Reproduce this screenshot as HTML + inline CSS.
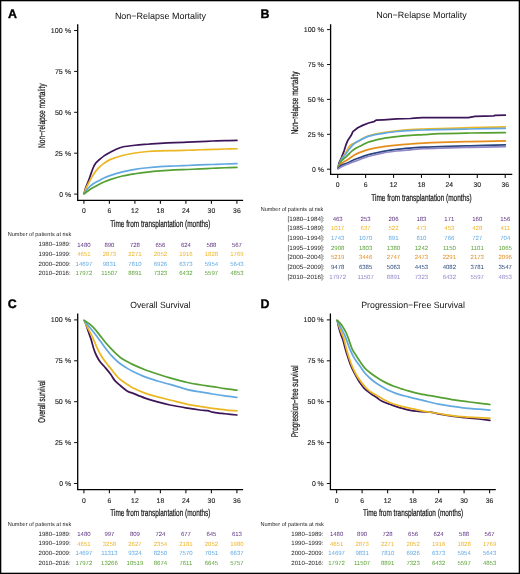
<!DOCTYPE html>
<html><head><meta charset="utf-8"><title>Figure</title>
<style>html,body{margin:0;padding:0;background:#fff;} svg{display:block;will-change:transform;}</style>
</head><body>
<svg width="520" height="574" viewBox="0 0 520 574" font-family='"Liberation Sans", sans-serif' text-rendering="geometricPrecision">
<rect x="0" y="0" width="520" height="574" fill="#fff"/>
<rect x="0.65" y="0.65" width="518.7" height="572.7" fill="none" stroke="#000" stroke-width="1.3"/>
<text x="8.00" y="18.15" font-size="12.4" font-weight="bold" fill="#000" stroke="#000" stroke-width="0.35">A</text>
<text x="160.40" y="18.60" font-size="9" text-anchor="middle" textLength="91.00" lengthAdjust="spacingAndGlyphs" fill="#111">Non−Relapse Mortality</text>
<path d="M77.70,24.20 L77.70,200.30 L243.10,200.30" fill="none" stroke="#000" stroke-width="1.3"/>
<line x1="74.10" y1="194.10" x2="77.70" y2="194.10" stroke="#111" stroke-width="1.0"/>
<text x="71.00" y="196.55" font-size="7.0" text-anchor="end" textLength="11.80" lengthAdjust="spacingAndGlyphs" fill="#222" stroke="#222" stroke-width="0.12">0 %</text>
<line x1="74.10" y1="153.20" x2="77.70" y2="153.20" stroke="#111" stroke-width="1.0"/>
<text x="71.00" y="155.65" font-size="7.0" text-anchor="end" textLength="16.10" lengthAdjust="spacingAndGlyphs" fill="#222" stroke="#222" stroke-width="0.12">25 %</text>
<line x1="74.10" y1="112.30" x2="77.70" y2="112.30" stroke="#111" stroke-width="1.0"/>
<text x="71.00" y="114.75" font-size="7.0" text-anchor="end" textLength="16.10" lengthAdjust="spacingAndGlyphs" fill="#222" stroke="#222" stroke-width="0.12">50 %</text>
<line x1="74.10" y1="71.40" x2="77.70" y2="71.40" stroke="#111" stroke-width="1.0"/>
<text x="71.00" y="73.85" font-size="7.0" text-anchor="end" textLength="16.10" lengthAdjust="spacingAndGlyphs" fill="#222" stroke="#222" stroke-width="0.12">75 %</text>
<line x1="74.10" y1="30.50" x2="77.70" y2="30.50" stroke="#111" stroke-width="1.0"/>
<text x="71.00" y="32.95" font-size="7.0" text-anchor="end" textLength="20.20" lengthAdjust="spacingAndGlyphs" fill="#222" stroke="#222" stroke-width="0.12">100 %</text>
<line x1="83.90" y1="200.30" x2="83.90" y2="203.80" stroke="#111" stroke-width="1.1"/>
<text x="83.90" y="213.20" font-size="6.8" text-anchor="middle" fill="#222" stroke="#222" stroke-width="0.12">0</text>
<line x1="109.40" y1="200.30" x2="109.40" y2="203.80" stroke="#111" stroke-width="1.1"/>
<text x="109.40" y="213.20" font-size="6.8" text-anchor="middle" fill="#222" stroke="#222" stroke-width="0.12">6</text>
<line x1="134.90" y1="200.30" x2="134.90" y2="203.80" stroke="#111" stroke-width="1.1"/>
<text x="134.90" y="213.20" font-size="6.8" text-anchor="middle" fill="#222" stroke="#222" stroke-width="0.12">12</text>
<line x1="160.40" y1="200.30" x2="160.40" y2="203.80" stroke="#111" stroke-width="1.1"/>
<text x="160.40" y="213.20" font-size="6.8" text-anchor="middle" fill="#222" stroke="#222" stroke-width="0.12">18</text>
<line x1="185.90" y1="200.30" x2="185.90" y2="203.80" stroke="#111" stroke-width="1.1"/>
<text x="185.90" y="213.20" font-size="6.8" text-anchor="middle" fill="#222" stroke="#222" stroke-width="0.12">24</text>
<line x1="211.40" y1="200.30" x2="211.40" y2="203.80" stroke="#111" stroke-width="1.1"/>
<text x="211.40" y="213.20" font-size="6.8" text-anchor="middle" fill="#222" stroke="#222" stroke-width="0.12">30</text>
<line x1="236.90" y1="200.30" x2="236.90" y2="203.80" stroke="#111" stroke-width="1.1"/>
<text x="236.90" y="213.20" font-size="6.8" text-anchor="middle" fill="#222" stroke="#222" stroke-width="0.12">36</text>
<text x="160.40" y="226.50" font-size="9.8" text-anchor="middle" textLength="100.20" lengthAdjust="spacingAndGlyphs" fill="#111" stroke="#111" stroke-width="0.2">Time from transplantation (months)</text>
<text transform="translate(45.30,115.70) rotate(-90)" x="0" y="0" font-size="9.8" text-anchor="middle" textLength="64.50" lengthAdjust="spacingAndGlyphs" fill="#111" stroke="#111" stroke-width="0.2">Non−relapse mortality</text>
<text x="7.70" y="236.20" font-size="5.7" textLength="63.50" lengthAdjust="spacingAndGlyphs" fill="#222">Number of patients at risk</text>
<text x="70.70" y="246.30" font-size="6.1" text-anchor="end" textLength="32.10" lengthAdjust="spacingAndGlyphs" fill="#222">1980–1989:</text>
<text x="83.90" y="246.60" font-size="6.0" text-anchor="middle" fill="#5a2f80">1480</text>
<text x="109.40" y="246.60" font-size="6.0" text-anchor="middle" fill="#5a2f80">890</text>
<text x="134.90" y="246.60" font-size="6.0" text-anchor="middle" fill="#5a2f80">728</text>
<text x="160.40" y="246.60" font-size="6.0" text-anchor="middle" fill="#5a2f80">656</text>
<text x="185.90" y="246.60" font-size="6.0" text-anchor="middle" fill="#5a2f80">624</text>
<text x="211.40" y="246.60" font-size="6.0" text-anchor="middle" fill="#5a2f80">588</text>
<text x="236.90" y="246.60" font-size="6.0" text-anchor="middle" fill="#5a2f80">567</text>
<text x="70.70" y="255.90" font-size="6.1" text-anchor="end" textLength="32.10" lengthAdjust="spacingAndGlyphs" fill="#222">1990–1999:</text>
<text x="83.90" y="256.20" font-size="6.0" text-anchor="middle" fill="#efb52a">4651</text>
<text x="109.40" y="256.20" font-size="6.0" text-anchor="middle" fill="#efb52a">2873</text>
<text x="134.90" y="256.20" font-size="6.0" text-anchor="middle" fill="#efb52a">2271</text>
<text x="160.40" y="256.20" font-size="6.0" text-anchor="middle" fill="#efb52a">2052</text>
<text x="185.90" y="256.20" font-size="6.0" text-anchor="middle" fill="#efb52a">1916</text>
<text x="211.40" y="256.20" font-size="6.0" text-anchor="middle" fill="#efb52a">1828</text>
<text x="236.90" y="256.20" font-size="6.0" text-anchor="middle" fill="#efb52a">1769</text>
<text x="70.70" y="265.50" font-size="6.1" text-anchor="end" textLength="32.10" lengthAdjust="spacingAndGlyphs" fill="#222">2000–2009:</text>
<text x="83.90" y="265.80" font-size="6.0" text-anchor="middle" fill="#62a9e2">14697</text>
<text x="109.40" y="265.80" font-size="6.0" text-anchor="middle" fill="#62a9e2">9831</text>
<text x="134.90" y="265.80" font-size="6.0" text-anchor="middle" fill="#62a9e2">7810</text>
<text x="160.40" y="265.80" font-size="6.0" text-anchor="middle" fill="#62a9e2">6926</text>
<text x="185.90" y="265.80" font-size="6.0" text-anchor="middle" fill="#62a9e2">6373</text>
<text x="211.40" y="265.80" font-size="6.0" text-anchor="middle" fill="#62a9e2">5954</text>
<text x="236.90" y="265.80" font-size="6.0" text-anchor="middle" fill="#62a9e2">5643</text>
<text x="70.70" y="275.10" font-size="6.1" text-anchor="end" textLength="32.10" lengthAdjust="spacingAndGlyphs" fill="#222">2010–2016:</text>
<text x="83.90" y="275.40" font-size="6.0" text-anchor="middle" fill="#5ca238">17972</text>
<text x="109.40" y="275.40" font-size="6.0" text-anchor="middle" fill="#5ca238">11507</text>
<text x="134.90" y="275.40" font-size="6.0" text-anchor="middle" fill="#5ca238">8891</text>
<text x="160.40" y="275.40" font-size="6.0" text-anchor="middle" fill="#5ca238">7323</text>
<text x="185.90" y="275.40" font-size="6.0" text-anchor="middle" fill="#5ca238">6432</text>
<text x="211.40" y="275.40" font-size="6.0" text-anchor="middle" fill="#5ca238">5597</text>
<text x="236.90" y="275.40" font-size="6.0" text-anchor="middle" fill="#5ca238">4853</text>
<text x="260.40" y="18.40" font-size="12.4" font-weight="bold" fill="#000" stroke="#000" stroke-width="0.35">B</text>
<text x="421.45" y="18.40" font-size="9" text-anchor="middle" textLength="90.50" lengthAdjust="spacingAndGlyphs" fill="#111">Non−Relapse Mortality</text>
<path d="M330.60,24.20 L330.60,174.40 L512.30,174.40" fill="none" stroke="#000" stroke-width="1.3"/>
<line x1="327.00" y1="169.20" x2="330.60" y2="169.20" stroke="#111" stroke-width="1.0"/>
<text x="323.90" y="171.65" font-size="7.0" text-anchor="end" textLength="11.80" lengthAdjust="spacingAndGlyphs" fill="#222" stroke="#222" stroke-width="0.12">0 %</text>
<line x1="327.00" y1="134.30" x2="330.60" y2="134.30" stroke="#111" stroke-width="1.0"/>
<text x="323.90" y="136.75" font-size="7.0" text-anchor="end" textLength="16.10" lengthAdjust="spacingAndGlyphs" fill="#222" stroke="#222" stroke-width="0.12">25 %</text>
<line x1="327.00" y1="99.40" x2="330.60" y2="99.40" stroke="#111" stroke-width="1.0"/>
<text x="323.90" y="101.85" font-size="7.0" text-anchor="end" textLength="16.10" lengthAdjust="spacingAndGlyphs" fill="#222" stroke="#222" stroke-width="0.12">50 %</text>
<line x1="327.00" y1="64.50" x2="330.60" y2="64.50" stroke="#111" stroke-width="1.0"/>
<text x="323.90" y="66.95" font-size="7.0" text-anchor="end" textLength="16.10" lengthAdjust="spacingAndGlyphs" fill="#222" stroke="#222" stroke-width="0.12">75 %</text>
<line x1="327.00" y1="29.60" x2="330.60" y2="29.60" stroke="#111" stroke-width="1.0"/>
<text x="323.90" y="32.05" font-size="7.0" text-anchor="end" textLength="20.20" lengthAdjust="spacingAndGlyphs" fill="#222" stroke="#222" stroke-width="0.12">100 %</text>
<line x1="337.70" y1="174.40" x2="337.70" y2="177.90" stroke="#111" stroke-width="1.1"/>
<text x="337.70" y="187.30" font-size="6.8" text-anchor="middle" fill="#222" stroke="#222" stroke-width="0.12">0</text>
<line x1="365.62" y1="174.40" x2="365.62" y2="177.90" stroke="#111" stroke-width="1.1"/>
<text x="365.62" y="187.30" font-size="6.8" text-anchor="middle" fill="#222" stroke="#222" stroke-width="0.12">6</text>
<line x1="393.54" y1="174.40" x2="393.54" y2="177.90" stroke="#111" stroke-width="1.1"/>
<text x="393.54" y="187.30" font-size="6.8" text-anchor="middle" fill="#222" stroke="#222" stroke-width="0.12">12</text>
<line x1="421.46" y1="174.40" x2="421.46" y2="177.90" stroke="#111" stroke-width="1.1"/>
<text x="421.46" y="187.30" font-size="6.8" text-anchor="middle" fill="#222" stroke="#222" stroke-width="0.12">18</text>
<line x1="449.38" y1="174.40" x2="449.38" y2="177.90" stroke="#111" stroke-width="1.1"/>
<text x="449.38" y="187.30" font-size="6.8" text-anchor="middle" fill="#222" stroke="#222" stroke-width="0.12">24</text>
<line x1="477.30" y1="174.40" x2="477.30" y2="177.90" stroke="#111" stroke-width="1.1"/>
<text x="477.30" y="187.30" font-size="6.8" text-anchor="middle" fill="#222" stroke="#222" stroke-width="0.12">30</text>
<line x1="505.22" y1="174.40" x2="505.22" y2="177.90" stroke="#111" stroke-width="1.1"/>
<text x="505.22" y="187.30" font-size="6.8" text-anchor="middle" fill="#222" stroke="#222" stroke-width="0.12">36</text>
<text x="421.45" y="200.60" font-size="9.8" text-anchor="middle" textLength="100.20" lengthAdjust="spacingAndGlyphs" fill="#111" stroke="#111" stroke-width="0.2">Time from transplantation (months)</text>
<text transform="translate(297.70,102.90) rotate(-90)" x="0" y="0" font-size="9.8" text-anchor="middle" textLength="62.80" lengthAdjust="spacingAndGlyphs" fill="#111" stroke="#111" stroke-width="0.2">Non−relapse mortality</text>
<text x="260.70" y="211.10" font-size="5.7" textLength="62.60" lengthAdjust="spacingAndGlyphs" fill="#222">Number of patients at risk</text>
<text x="324.50" y="220.50" font-size="6.1" text-anchor="end" textLength="37.00" lengthAdjust="spacingAndGlyphs" fill="#222">[1980–1984]:</text>
<text x="337.70" y="220.80" font-size="6.0" text-anchor="middle" fill="#5a2f80">463</text>
<text x="365.62" y="220.80" font-size="6.0" text-anchor="middle" fill="#5a2f80">253</text>
<text x="393.54" y="220.80" font-size="6.0" text-anchor="middle" fill="#5a2f80">206</text>
<text x="421.46" y="220.80" font-size="6.0" text-anchor="middle" fill="#5a2f80">183</text>
<text x="449.38" y="220.80" font-size="6.0" text-anchor="middle" fill="#5a2f80">171</text>
<text x="477.30" y="220.80" font-size="6.0" text-anchor="middle" fill="#5a2f80">160</text>
<text x="505.22" y="220.80" font-size="6.0" text-anchor="middle" fill="#5a2f80">156</text>
<text x="324.50" y="230.17" font-size="6.1" text-anchor="end" textLength="37.00" lengthAdjust="spacingAndGlyphs" fill="#222">[1985–1989]:</text>
<text x="337.70" y="230.47" font-size="6.0" text-anchor="middle" fill="#efb52a">1017</text>
<text x="365.62" y="230.47" font-size="6.0" text-anchor="middle" fill="#efb52a">637</text>
<text x="393.54" y="230.47" font-size="6.0" text-anchor="middle" fill="#efb52a">522</text>
<text x="421.46" y="230.47" font-size="6.0" text-anchor="middle" fill="#efb52a">473</text>
<text x="449.38" y="230.47" font-size="6.0" text-anchor="middle" fill="#efb52a">453</text>
<text x="477.30" y="230.47" font-size="6.0" text-anchor="middle" fill="#efb52a">428</text>
<text x="505.22" y="230.47" font-size="6.0" text-anchor="middle" fill="#efb52a">411</text>
<text x="324.50" y="239.83" font-size="6.1" text-anchor="end" textLength="37.00" lengthAdjust="spacingAndGlyphs" fill="#222">[1990–1994]:</text>
<text x="337.70" y="240.13" font-size="6.0" text-anchor="middle" fill="#62a9e2">1743</text>
<text x="365.62" y="240.13" font-size="6.0" text-anchor="middle" fill="#62a9e2">1070</text>
<text x="393.54" y="240.13" font-size="6.0" text-anchor="middle" fill="#62a9e2">891</text>
<text x="421.46" y="240.13" font-size="6.0" text-anchor="middle" fill="#62a9e2">810</text>
<text x="449.38" y="240.13" font-size="6.0" text-anchor="middle" fill="#62a9e2">766</text>
<text x="477.30" y="240.13" font-size="6.0" text-anchor="middle" fill="#62a9e2">727</text>
<text x="505.22" y="240.13" font-size="6.0" text-anchor="middle" fill="#62a9e2">704</text>
<text x="324.50" y="249.50" font-size="6.1" text-anchor="end" textLength="37.00" lengthAdjust="spacingAndGlyphs" fill="#222">[1995–1999]:</text>
<text x="337.70" y="249.80" font-size="6.0" text-anchor="middle" fill="#5ca238">2908</text>
<text x="365.62" y="249.80" font-size="6.0" text-anchor="middle" fill="#5ca238">1803</text>
<text x="393.54" y="249.80" font-size="6.0" text-anchor="middle" fill="#5ca238">1380</text>
<text x="421.46" y="249.80" font-size="6.0" text-anchor="middle" fill="#5ca238">1242</text>
<text x="449.38" y="249.80" font-size="6.0" text-anchor="middle" fill="#5ca238">1150</text>
<text x="477.30" y="249.80" font-size="6.0" text-anchor="middle" fill="#5ca238">1101</text>
<text x="505.22" y="249.80" font-size="6.0" text-anchor="middle" fill="#5ca238">1065</text>
<text x="324.50" y="259.17" font-size="6.1" text-anchor="end" textLength="37.00" lengthAdjust="spacingAndGlyphs" fill="#222">[2000–2004]:</text>
<text x="337.70" y="259.47" font-size="6.0" text-anchor="middle" fill="#e58e1e">5219</text>
<text x="365.62" y="259.47" font-size="6.0" text-anchor="middle" fill="#e58e1e">3446</text>
<text x="393.54" y="259.47" font-size="6.0" text-anchor="middle" fill="#e58e1e">2747</text>
<text x="421.46" y="259.47" font-size="6.0" text-anchor="middle" fill="#e58e1e">2473</text>
<text x="449.38" y="259.47" font-size="6.0" text-anchor="middle" fill="#e58e1e">2291</text>
<text x="477.30" y="259.47" font-size="6.0" text-anchor="middle" fill="#e58e1e">2173</text>
<text x="505.22" y="259.47" font-size="6.0" text-anchor="middle" fill="#e58e1e">2096</text>
<text x="324.50" y="268.83" font-size="6.1" text-anchor="end" textLength="37.00" lengthAdjust="spacingAndGlyphs" fill="#222">[2005–2009]:</text>
<text x="337.70" y="269.13" font-size="6.0" text-anchor="middle" fill="#27457c">9478</text>
<text x="365.62" y="269.13" font-size="6.0" text-anchor="middle" fill="#27457c">6385</text>
<text x="393.54" y="269.13" font-size="6.0" text-anchor="middle" fill="#27457c">5063</text>
<text x="421.46" y="269.13" font-size="6.0" text-anchor="middle" fill="#27457c">4453</text>
<text x="449.38" y="269.13" font-size="6.0" text-anchor="middle" fill="#27457c">4082</text>
<text x="477.30" y="269.13" font-size="6.0" text-anchor="middle" fill="#27457c">3781</text>
<text x="505.22" y="269.13" font-size="6.0" text-anchor="middle" fill="#27457c">3547</text>
<text x="324.50" y="278.50" font-size="6.1" text-anchor="end" textLength="37.00" lengthAdjust="spacingAndGlyphs" fill="#222">[2010–2016]:</text>
<text x="337.70" y="278.80" font-size="6.0" text-anchor="middle" fill="#9088c8">17972</text>
<text x="365.62" y="278.80" font-size="6.0" text-anchor="middle" fill="#9088c8">11507</text>
<text x="393.54" y="278.80" font-size="6.0" text-anchor="middle" fill="#9088c8">8891</text>
<text x="421.46" y="278.80" font-size="6.0" text-anchor="middle" fill="#9088c8">7323</text>
<text x="449.38" y="278.80" font-size="6.0" text-anchor="middle" fill="#9088c8">6432</text>
<text x="477.30" y="278.80" font-size="6.0" text-anchor="middle" fill="#9088c8">5597</text>
<text x="505.22" y="278.80" font-size="6.0" text-anchor="middle" fill="#9088c8">4853</text>
<text x="7.80" y="308.40" font-size="12.4" font-weight="bold" fill="#000" stroke="#000" stroke-width="0.35">C</text>
<text x="160.40" y="308.10" font-size="9" text-anchor="middle" textLength="60.20" lengthAdjust="spacingAndGlyphs" fill="#111">Overall Survival</text>
<path d="M77.70,313.60 L77.70,489.70 L243.10,489.70" fill="none" stroke="#000" stroke-width="1.3"/>
<line x1="74.10" y1="483.50" x2="77.70" y2="483.50" stroke="#111" stroke-width="1.0"/>
<text x="71.00" y="485.95" font-size="7.0" text-anchor="end" textLength="11.80" lengthAdjust="spacingAndGlyphs" fill="#222" stroke="#222" stroke-width="0.12">0 %</text>
<line x1="74.10" y1="442.60" x2="77.70" y2="442.60" stroke="#111" stroke-width="1.0"/>
<text x="71.00" y="445.05" font-size="7.0" text-anchor="end" textLength="16.10" lengthAdjust="spacingAndGlyphs" fill="#222" stroke="#222" stroke-width="0.12">25 %</text>
<line x1="74.10" y1="401.70" x2="77.70" y2="401.70" stroke="#111" stroke-width="1.0"/>
<text x="71.00" y="404.15" font-size="7.0" text-anchor="end" textLength="16.10" lengthAdjust="spacingAndGlyphs" fill="#222" stroke="#222" stroke-width="0.12">50 %</text>
<line x1="74.10" y1="360.80" x2="77.70" y2="360.80" stroke="#111" stroke-width="1.0"/>
<text x="71.00" y="363.25" font-size="7.0" text-anchor="end" textLength="16.10" lengthAdjust="spacingAndGlyphs" fill="#222" stroke="#222" stroke-width="0.12">75 %</text>
<line x1="74.10" y1="319.90" x2="77.70" y2="319.90" stroke="#111" stroke-width="1.0"/>
<text x="71.00" y="322.35" font-size="7.0" text-anchor="end" textLength="20.20" lengthAdjust="spacingAndGlyphs" fill="#222" stroke="#222" stroke-width="0.12">100 %</text>
<line x1="83.90" y1="489.70" x2="83.90" y2="493.20" stroke="#111" stroke-width="1.1"/>
<text x="83.90" y="502.60" font-size="6.8" text-anchor="middle" fill="#222" stroke="#222" stroke-width="0.12">0</text>
<line x1="109.40" y1="489.70" x2="109.40" y2="493.20" stroke="#111" stroke-width="1.1"/>
<text x="109.40" y="502.60" font-size="6.8" text-anchor="middle" fill="#222" stroke="#222" stroke-width="0.12">6</text>
<line x1="134.90" y1="489.70" x2="134.90" y2="493.20" stroke="#111" stroke-width="1.1"/>
<text x="134.90" y="502.60" font-size="6.8" text-anchor="middle" fill="#222" stroke="#222" stroke-width="0.12">12</text>
<line x1="160.40" y1="489.70" x2="160.40" y2="493.20" stroke="#111" stroke-width="1.1"/>
<text x="160.40" y="502.60" font-size="6.8" text-anchor="middle" fill="#222" stroke="#222" stroke-width="0.12">18</text>
<line x1="185.90" y1="489.70" x2="185.90" y2="493.20" stroke="#111" stroke-width="1.1"/>
<text x="185.90" y="502.60" font-size="6.8" text-anchor="middle" fill="#222" stroke="#222" stroke-width="0.12">24</text>
<line x1="211.40" y1="489.70" x2="211.40" y2="493.20" stroke="#111" stroke-width="1.1"/>
<text x="211.40" y="502.60" font-size="6.8" text-anchor="middle" fill="#222" stroke="#222" stroke-width="0.12">30</text>
<line x1="236.90" y1="489.70" x2="236.90" y2="493.20" stroke="#111" stroke-width="1.1"/>
<text x="236.90" y="502.60" font-size="6.8" text-anchor="middle" fill="#222" stroke="#222" stroke-width="0.12">36</text>
<text x="160.40" y="515.90" font-size="9.8" text-anchor="middle" textLength="100.20" lengthAdjust="spacingAndGlyphs" fill="#111" stroke="#111" stroke-width="0.2">Time from transplantation (months)</text>
<text transform="translate(45.30,401.60) rotate(-90)" x="0" y="0" font-size="9.8" text-anchor="middle" textLength="42.40" lengthAdjust="spacingAndGlyphs" fill="#111" stroke="#111" stroke-width="0.2">Overall survival</text>
<text x="7.70" y="525.60" font-size="5.7" textLength="63.50" lengthAdjust="spacingAndGlyphs" fill="#222">Number of patients at risk</text>
<text x="70.70" y="535.70" font-size="6.1" text-anchor="end" textLength="32.10" lengthAdjust="spacingAndGlyphs" fill="#222">1980–1989:</text>
<text x="83.90" y="536.00" font-size="6.0" text-anchor="middle" fill="#5a2f80">1480</text>
<text x="109.40" y="536.00" font-size="6.0" text-anchor="middle" fill="#5a2f80">997</text>
<text x="134.90" y="536.00" font-size="6.0" text-anchor="middle" fill="#5a2f80">809</text>
<text x="160.40" y="536.00" font-size="6.0" text-anchor="middle" fill="#5a2f80">724</text>
<text x="185.90" y="536.00" font-size="6.0" text-anchor="middle" fill="#5a2f80">677</text>
<text x="211.40" y="536.00" font-size="6.0" text-anchor="middle" fill="#5a2f80">645</text>
<text x="236.90" y="536.00" font-size="6.0" text-anchor="middle" fill="#5a2f80">613</text>
<text x="70.70" y="545.30" font-size="6.1" text-anchor="end" textLength="32.10" lengthAdjust="spacingAndGlyphs" fill="#222">1990–1999:</text>
<text x="83.90" y="545.60" font-size="6.0" text-anchor="middle" fill="#efb52a">4651</text>
<text x="109.40" y="545.60" font-size="6.0" text-anchor="middle" fill="#efb52a">3258</text>
<text x="134.90" y="545.60" font-size="6.0" text-anchor="middle" fill="#efb52a">2627</text>
<text x="160.40" y="545.60" font-size="6.0" text-anchor="middle" fill="#efb52a">2354</text>
<text x="185.90" y="545.60" font-size="6.0" text-anchor="middle" fill="#efb52a">2181</text>
<text x="211.40" y="545.60" font-size="6.0" text-anchor="middle" fill="#efb52a">2052</text>
<text x="236.90" y="545.60" font-size="6.0" text-anchor="middle" fill="#efb52a">1980</text>
<text x="70.70" y="554.90" font-size="6.1" text-anchor="end" textLength="32.10" lengthAdjust="spacingAndGlyphs" fill="#222">2000–2009:</text>
<text x="83.90" y="555.20" font-size="6.0" text-anchor="middle" fill="#62a9e2">14697</text>
<text x="109.40" y="555.20" font-size="6.0" text-anchor="middle" fill="#62a9e2">11313</text>
<text x="134.90" y="555.20" font-size="6.0" text-anchor="middle" fill="#62a9e2">9324</text>
<text x="160.40" y="555.20" font-size="6.0" text-anchor="middle" fill="#62a9e2">8250</text>
<text x="185.90" y="555.20" font-size="6.0" text-anchor="middle" fill="#62a9e2">7570</text>
<text x="211.40" y="555.20" font-size="6.0" text-anchor="middle" fill="#62a9e2">7051</text>
<text x="236.90" y="555.20" font-size="6.0" text-anchor="middle" fill="#62a9e2">6637</text>
<text x="70.70" y="564.50" font-size="6.1" text-anchor="end" textLength="32.10" lengthAdjust="spacingAndGlyphs" fill="#222">2010–2016:</text>
<text x="83.90" y="564.80" font-size="6.0" text-anchor="middle" fill="#5ca238">17972</text>
<text x="109.40" y="564.80" font-size="6.0" text-anchor="middle" fill="#5ca238">13266</text>
<text x="134.90" y="564.80" font-size="6.0" text-anchor="middle" fill="#5ca238">10519</text>
<text x="160.40" y="564.80" font-size="6.0" text-anchor="middle" fill="#5ca238">8674</text>
<text x="185.90" y="564.80" font-size="6.0" text-anchor="middle" fill="#5ca238">7611</text>
<text x="211.40" y="564.80" font-size="6.0" text-anchor="middle" fill="#5ca238">6645</text>
<text x="236.90" y="564.80" font-size="6.0" text-anchor="middle" fill="#5ca238">5757</text>
<text x="260.40" y="308.40" font-size="12.4" font-weight="bold" fill="#000" stroke="#000" stroke-width="0.35">D</text>
<text x="413.10" y="308.10" font-size="9" text-anchor="middle" textLength="103.70" lengthAdjust="spacingAndGlyphs" fill="#111">Progression−Free Survival</text>
<path d="M330.40,313.60 L330.40,489.70 L495.80,489.70" fill="none" stroke="#000" stroke-width="1.3"/>
<line x1="326.80" y1="483.50" x2="330.40" y2="483.50" stroke="#111" stroke-width="1.0"/>
<text x="323.70" y="485.95" font-size="7.0" text-anchor="end" textLength="11.80" lengthAdjust="spacingAndGlyphs" fill="#222" stroke="#222" stroke-width="0.12">0 %</text>
<line x1="326.80" y1="442.60" x2="330.40" y2="442.60" stroke="#111" stroke-width="1.0"/>
<text x="323.70" y="445.05" font-size="7.0" text-anchor="end" textLength="16.10" lengthAdjust="spacingAndGlyphs" fill="#222" stroke="#222" stroke-width="0.12">25 %</text>
<line x1="326.80" y1="401.70" x2="330.40" y2="401.70" stroke="#111" stroke-width="1.0"/>
<text x="323.70" y="404.15" font-size="7.0" text-anchor="end" textLength="16.10" lengthAdjust="spacingAndGlyphs" fill="#222" stroke="#222" stroke-width="0.12">50 %</text>
<line x1="326.80" y1="360.80" x2="330.40" y2="360.80" stroke="#111" stroke-width="1.0"/>
<text x="323.70" y="363.25" font-size="7.0" text-anchor="end" textLength="16.10" lengthAdjust="spacingAndGlyphs" fill="#222" stroke="#222" stroke-width="0.12">75 %</text>
<line x1="326.80" y1="319.90" x2="330.40" y2="319.90" stroke="#111" stroke-width="1.0"/>
<text x="323.70" y="322.35" font-size="7.0" text-anchor="end" textLength="20.20" lengthAdjust="spacingAndGlyphs" fill="#222" stroke="#222" stroke-width="0.12">100 %</text>
<line x1="336.60" y1="489.70" x2="336.60" y2="493.20" stroke="#111" stroke-width="1.1"/>
<text x="336.60" y="502.60" font-size="6.8" text-anchor="middle" fill="#222" stroke="#222" stroke-width="0.12">0</text>
<line x1="362.10" y1="489.70" x2="362.10" y2="493.20" stroke="#111" stroke-width="1.1"/>
<text x="362.10" y="502.60" font-size="6.8" text-anchor="middle" fill="#222" stroke="#222" stroke-width="0.12">6</text>
<line x1="387.60" y1="489.70" x2="387.60" y2="493.20" stroke="#111" stroke-width="1.1"/>
<text x="387.60" y="502.60" font-size="6.8" text-anchor="middle" fill="#222" stroke="#222" stroke-width="0.12">12</text>
<line x1="413.10" y1="489.70" x2="413.10" y2="493.20" stroke="#111" stroke-width="1.1"/>
<text x="413.10" y="502.60" font-size="6.8" text-anchor="middle" fill="#222" stroke="#222" stroke-width="0.12">18</text>
<line x1="438.60" y1="489.70" x2="438.60" y2="493.20" stroke="#111" stroke-width="1.1"/>
<text x="438.60" y="502.60" font-size="6.8" text-anchor="middle" fill="#222" stroke="#222" stroke-width="0.12">24</text>
<line x1="464.10" y1="489.70" x2="464.10" y2="493.20" stroke="#111" stroke-width="1.1"/>
<text x="464.10" y="502.60" font-size="6.8" text-anchor="middle" fill="#222" stroke="#222" stroke-width="0.12">30</text>
<line x1="489.60" y1="489.70" x2="489.60" y2="493.20" stroke="#111" stroke-width="1.1"/>
<text x="489.60" y="502.60" font-size="6.8" text-anchor="middle" fill="#222" stroke="#222" stroke-width="0.12">36</text>
<text x="413.10" y="515.90" font-size="9.8" text-anchor="middle" textLength="100.20" lengthAdjust="spacingAndGlyphs" fill="#111" stroke="#111" stroke-width="0.2">Time from transplantation (months)</text>
<text transform="translate(297.70,401.20) rotate(-90)" x="0" y="0" font-size="9.8" text-anchor="middle" textLength="71.90" lengthAdjust="spacingAndGlyphs" fill="#111" stroke="#111" stroke-width="0.2">Progression−free survival</text>
<text x="260.40" y="525.60" font-size="5.7" textLength="63.50" lengthAdjust="spacingAndGlyphs" fill="#222">Number of patients at risk</text>
<text x="323.40" y="535.70" font-size="6.1" text-anchor="end" textLength="32.10" lengthAdjust="spacingAndGlyphs" fill="#222">1980–1989:</text>
<text x="336.60" y="536.00" font-size="6.0" text-anchor="middle" fill="#5a2f80">1480</text>
<text x="362.10" y="536.00" font-size="6.0" text-anchor="middle" fill="#5a2f80">890</text>
<text x="387.60" y="536.00" font-size="6.0" text-anchor="middle" fill="#5a2f80">728</text>
<text x="413.10" y="536.00" font-size="6.0" text-anchor="middle" fill="#5a2f80">656</text>
<text x="438.60" y="536.00" font-size="6.0" text-anchor="middle" fill="#5a2f80">624</text>
<text x="464.10" y="536.00" font-size="6.0" text-anchor="middle" fill="#5a2f80">588</text>
<text x="489.60" y="536.00" font-size="6.0" text-anchor="middle" fill="#5a2f80">567</text>
<text x="323.40" y="545.30" font-size="6.1" text-anchor="end" textLength="32.10" lengthAdjust="spacingAndGlyphs" fill="#222">1990–1999:</text>
<text x="336.60" y="545.60" font-size="6.0" text-anchor="middle" fill="#efb52a">4651</text>
<text x="362.10" y="545.60" font-size="6.0" text-anchor="middle" fill="#efb52a">2873</text>
<text x="387.60" y="545.60" font-size="6.0" text-anchor="middle" fill="#efb52a">2271</text>
<text x="413.10" y="545.60" font-size="6.0" text-anchor="middle" fill="#efb52a">2052</text>
<text x="438.60" y="545.60" font-size="6.0" text-anchor="middle" fill="#efb52a">1916</text>
<text x="464.10" y="545.60" font-size="6.0" text-anchor="middle" fill="#efb52a">1828</text>
<text x="489.60" y="545.60" font-size="6.0" text-anchor="middle" fill="#efb52a">1769</text>
<text x="323.40" y="554.90" font-size="6.1" text-anchor="end" textLength="32.10" lengthAdjust="spacingAndGlyphs" fill="#222">2000–2009:</text>
<text x="336.60" y="555.20" font-size="6.0" text-anchor="middle" fill="#62a9e2">14697</text>
<text x="362.10" y="555.20" font-size="6.0" text-anchor="middle" fill="#62a9e2">9831</text>
<text x="387.60" y="555.20" font-size="6.0" text-anchor="middle" fill="#62a9e2">7810</text>
<text x="413.10" y="555.20" font-size="6.0" text-anchor="middle" fill="#62a9e2">6926</text>
<text x="438.60" y="555.20" font-size="6.0" text-anchor="middle" fill="#62a9e2">6373</text>
<text x="464.10" y="555.20" font-size="6.0" text-anchor="middle" fill="#62a9e2">5954</text>
<text x="489.60" y="555.20" font-size="6.0" text-anchor="middle" fill="#62a9e2">5643</text>
<text x="323.40" y="564.50" font-size="6.1" text-anchor="end" textLength="32.10" lengthAdjust="spacingAndGlyphs" fill="#222">2010–2016:</text>
<text x="336.60" y="564.80" font-size="6.0" text-anchor="middle" fill="#5ca238">17972</text>
<text x="362.10" y="564.80" font-size="6.0" text-anchor="middle" fill="#5ca238">11507</text>
<text x="387.60" y="564.80" font-size="6.0" text-anchor="middle" fill="#5ca238">8891</text>
<text x="413.10" y="564.80" font-size="6.0" text-anchor="middle" fill="#5ca238">7323</text>
<text x="438.60" y="564.80" font-size="6.0" text-anchor="middle" fill="#5ca238">6432</text>
<text x="464.10" y="564.80" font-size="6.0" text-anchor="middle" fill="#5ca238">5597</text>
<text x="489.60" y="564.80" font-size="6.0" text-anchor="middle" fill="#5ca238">4853</text>
<path d="M84.20,193.20 C84.47,192.27 85.12,189.58 85.80,187.60 C86.48,185.62 87.47,183.50 88.30,181.30 C89.13,179.10 89.97,176.70 90.80,174.40 C91.63,172.10 92.47,169.38 93.30,167.50 C94.13,165.62 94.87,164.35 95.80,163.10 C96.73,161.85 97.47,161.25 98.90,160.00 C100.33,158.75 102.55,156.87 104.40,155.60 C106.25,154.33 108.03,153.46 110.00,152.40 C111.97,151.34 114.17,150.15 116.25,149.25 C118.33,148.35 119.38,147.67 122.50,147.00 C125.62,146.33 130.83,145.71 135.00,145.25 C139.17,144.79 143.33,144.56 147.50,144.25 C151.67,143.94 155.42,143.68 160.00,143.40 C164.58,143.12 170.42,142.82 175.00,142.60 C179.58,142.38 183.33,142.27 187.50,142.10 C191.67,141.93 195.83,141.78 200.00,141.60 C204.17,141.42 208.33,141.17 212.50,141.00 C216.67,140.83 220.93,140.70 225.00,140.60 C229.07,140.50 234.92,140.43 236.90,140.40" fill="none" stroke="#3d1659" stroke-width="1.75" stroke-linejoin="round" stroke-linecap="round"/>
<path d="M84.20,193.40 C84.47,192.63 85.02,190.60 85.80,188.80 C86.58,187.00 87.87,184.58 88.90,182.60 C89.93,180.62 90.95,178.68 92.00,176.90 C93.05,175.12 93.93,173.57 95.20,171.90 C96.47,170.23 98.13,168.32 99.60,166.90 C101.07,165.48 102.27,164.62 104.00,163.40 C105.73,162.18 106.92,160.92 110.00,159.60 C113.08,158.28 118.33,156.60 122.50,155.50 C126.67,154.40 130.83,153.67 135.00,153.00 C139.17,152.33 143.33,151.87 147.50,151.50 C151.67,151.13 155.42,150.96 160.00,150.80 C164.58,150.64 170.42,150.64 175.00,150.55 C179.58,150.46 183.33,150.38 187.50,150.25 C191.67,150.12 195.83,149.89 200.00,149.75 C204.17,149.61 208.33,149.53 212.50,149.40 C216.67,149.28 220.93,149.11 225.00,149.00 C229.07,148.89 234.92,148.79 236.90,148.75" fill="none" stroke="#ecb722" stroke-width="1.75" stroke-linejoin="round" stroke-linecap="round"/>
<path d="M84.00,193.60 C84.72,192.67 86.75,189.63 88.30,188.00 C89.85,186.37 91.53,185.02 93.30,183.80 C95.07,182.58 97.12,181.67 98.90,180.70 C100.68,179.73 102.15,178.85 104.00,178.00 C105.85,177.15 106.92,176.62 110.00,175.60 C113.08,174.58 118.33,172.93 122.50,171.90 C126.67,170.87 130.83,170.09 135.00,169.40 C139.17,168.71 143.33,168.22 147.50,167.75 C151.67,167.28 155.42,166.89 160.00,166.60 C164.58,166.31 170.42,166.18 175.00,166.00 C179.58,165.82 183.33,165.68 187.50,165.50 C191.67,165.32 195.83,165.07 200.00,164.90 C204.17,164.73 208.33,164.65 212.50,164.50 C216.67,164.35 220.93,164.15 225.00,164.00 C229.07,163.85 234.92,163.67 236.90,163.60" fill="none" stroke="#62a9e2" stroke-width="1.75" stroke-linejoin="round" stroke-linecap="round"/>
<path d="M83.90,193.90 C84.63,193.37 86.73,191.75 88.30,190.70 C89.87,189.65 91.53,188.63 93.30,187.60 C95.07,186.57 97.12,185.43 98.90,184.50 C100.68,183.57 102.15,182.82 104.00,182.00 C105.85,181.18 106.92,180.60 110.00,179.60 C113.08,178.60 118.33,176.97 122.50,176.00 C126.67,175.03 130.83,174.40 135.00,173.75 C139.17,173.10 143.33,172.57 147.50,172.10 C151.67,171.62 155.42,171.27 160.00,170.90 C164.58,170.53 170.42,170.13 175.00,169.90 C179.58,169.67 183.33,169.67 187.50,169.50 C191.67,169.33 195.83,169.11 200.00,168.90 C204.17,168.69 208.33,168.44 212.50,168.25 C216.67,168.06 220.93,167.89 225.00,167.75 C229.07,167.61 234.92,167.46 236.90,167.40" fill="none" stroke="#55a032" stroke-width="1.75" stroke-linejoin="round" stroke-linecap="round"/>
<path d="M338.10,168.40 L338.90,163.40 L341.50,157.60 L344.00,151.10 L346.00,144.70 L347.90,140.20 L351.10,135.60 L352.90,131.60 L357.80,127.80 L363.20,125.10 L368.60,123.00 L374.00,121.60 L376.10,120.20 L383.50,119.80 L396.90,118.90 L410.40,118.50 L414.40,118.10 L422.50,117.60 L440.00,117.70 L468.30,117.70 L472.30,116.80 L475.00,116.30 L493.80,115.90 L495.20,115.30 L505.30,115.20" fill="none" stroke="#3d1659" stroke-width="1.75" stroke-linejoin="round" stroke-linecap="round"/>
<path d="M338.00,168.00 C338.58,166.55 340.28,161.77 341.50,159.30 C342.72,156.83 344.02,155.32 345.30,153.20 C346.58,151.08 348.23,148.02 349.20,146.60 C350.17,145.18 350.03,145.37 351.10,144.70 C352.17,144.03 354.30,143.18 355.60,142.60 C356.90,142.02 358.00,141.70 358.90,141.20 C359.80,140.70 359.57,140.42 361.00,139.60 C362.43,138.78 365.33,137.18 367.50,136.30 C369.67,135.42 371.33,134.92 374.00,134.30 C376.67,133.68 379.68,133.18 383.50,132.60 C387.32,132.02 392.42,131.30 396.90,130.80 C401.38,130.30 405.92,129.90 410.40,129.60 C414.88,129.30 418.87,129.18 423.80,129.00 C428.73,128.82 432.30,128.72 440.00,128.50 C447.70,128.28 459.12,127.97 470.00,127.70 C480.88,127.43 499.42,127.03 505.30,126.90" fill="none" stroke="#ecb722" stroke-width="1.75" stroke-linejoin="round" stroke-linecap="round"/>
<path d="M338.00,168.00 C338.58,166.58 340.28,161.77 341.50,159.50 C342.72,157.23 344.02,156.12 345.30,154.40 C346.58,152.68 347.90,150.82 349.20,149.20 C350.50,147.58 351.82,145.93 353.10,144.70 C354.38,143.47 355.75,142.55 356.90,141.80 C358.05,141.05 358.23,141.07 360.00,140.20 C361.77,139.33 365.17,137.48 367.50,136.60 C369.83,135.72 371.33,135.45 374.00,134.90 C376.67,134.35 379.68,133.87 383.50,133.30 C387.32,132.73 392.42,131.95 396.90,131.50 C401.38,131.05 405.92,130.85 410.40,130.60 C414.88,130.35 418.87,130.17 423.80,130.00 C428.73,129.83 432.30,129.77 440.00,129.60 C447.70,129.43 459.12,129.22 470.00,129.00 C480.88,128.78 499.42,128.42 505.30,128.30" fill="none" stroke="#62a9e2" stroke-width="1.75" stroke-linejoin="round" stroke-linecap="round"/>
<path d="M338.00,168.20 C338.58,166.97 340.07,162.78 341.50,160.80 C342.93,158.82 344.88,157.92 346.60,156.30 C348.32,154.68 350.18,152.50 351.80,151.10 C353.42,149.70 354.93,148.70 356.30,147.90 C357.67,147.10 358.48,147.05 360.00,146.30 C361.52,145.55 363.73,144.18 365.40,143.40 C367.07,142.62 366.98,142.43 370.00,141.60 C373.02,140.77 379.02,139.23 383.50,138.40 C387.98,137.57 392.42,137.10 396.90,136.60 C401.38,136.10 405.92,135.73 410.40,135.40 C414.88,135.07 418.87,134.90 423.80,134.60 C428.73,134.30 432.30,133.87 440.00,133.60 C447.70,133.33 459.12,133.17 470.00,133.00 C480.88,132.83 499.42,132.67 505.30,132.60" fill="none" stroke="#55a032" stroke-width="1.75" stroke-linejoin="round" stroke-linecap="round"/>
<path d="M338.00,168.30 C338.58,167.48 339.85,164.87 341.50,163.40 C343.15,161.93 345.75,160.90 347.90,159.50 C350.05,158.10 352.38,156.18 354.40,155.00 C356.42,153.82 357.40,153.37 360.00,152.40 C362.60,151.43 366.08,150.15 370.00,149.20 C373.92,148.25 379.02,147.38 383.50,146.70 C387.98,146.02 392.42,145.55 396.90,145.10 C401.38,144.65 405.92,144.33 410.40,144.00 C414.88,143.67 418.87,143.37 423.80,143.10 C428.73,142.83 432.30,142.65 440.00,142.40 C447.70,142.15 459.12,141.85 470.00,141.60 C480.88,141.35 499.42,141.02 505.30,140.90" fill="none" stroke="#e58e1e" stroke-width="1.75" stroke-linejoin="round" stroke-linecap="round"/>
<path d="M338.00,168.40 C338.58,167.88 339.85,166.25 341.50,165.30 C343.15,164.35 345.75,163.67 347.90,162.70 C350.05,161.73 352.38,160.35 354.40,159.50 C356.42,158.65 358.17,158.25 360.00,157.60 C361.83,156.95 363.07,156.32 365.40,155.60 C367.73,154.88 370.98,154.00 374.00,153.30 C377.02,152.60 379.68,152.05 383.50,151.40 C387.32,150.75 392.42,149.95 396.90,149.40 C401.38,148.85 405.92,148.48 410.40,148.10 C414.88,147.72 418.87,147.35 423.80,147.10 C428.73,146.85 432.30,146.82 440.00,146.60 C447.70,146.38 459.12,146.10 470.00,145.80 C480.88,145.50 499.42,144.97 505.30,144.80" fill="none" stroke="#27457c" stroke-width="1.75" stroke-linejoin="round" stroke-linecap="round"/>
<path d="M338.20,168.60 C339.28,168.05 342.55,166.28 344.70,165.30 C346.85,164.32 348.55,163.67 351.10,162.70 C353.65,161.73 357.62,160.38 360.00,159.50 C362.38,158.62 363.07,158.15 365.40,157.40 C367.73,156.65 370.98,155.77 374.00,155.00 C377.02,154.23 379.68,153.47 383.50,152.80 C387.32,152.13 392.42,151.50 396.90,151.00 C401.38,150.50 405.92,150.18 410.40,149.80 C414.88,149.42 418.87,148.98 423.80,148.70 C428.73,148.42 432.30,148.32 440.00,148.10 C447.70,147.88 459.12,147.65 470.00,147.40 C480.88,147.15 499.42,146.73 505.30,146.60" fill="none" stroke="#9088c8" stroke-width="1.75" stroke-linejoin="round" stroke-linecap="round"/>
<path d="M84.80,321.60 C84.98,322.03 85.28,322.47 85.90,324.20 C86.52,325.93 87.62,329.40 88.50,332.00 C89.38,334.60 90.32,336.97 91.20,339.80 C92.08,342.63 92.93,346.38 93.80,349.00 C94.67,351.62 95.32,353.32 96.40,355.50 C97.48,357.68 98.78,360.03 100.30,362.10 C101.82,364.17 103.75,365.83 105.50,367.90 C107.25,369.97 109.27,372.42 110.80,374.50 C112.33,376.58 113.18,378.62 114.70,380.40 C116.22,382.18 117.77,383.39 119.90,385.20 C122.03,387.01 125.40,389.93 127.50,391.25 C129.60,392.57 129.58,391.96 132.50,393.10 C135.42,394.24 140.83,396.63 145.00,398.10 C149.17,399.57 153.33,400.75 157.50,401.90 C161.67,403.05 165.00,403.97 170.00,405.00 C175.00,406.03 182.50,407.27 187.50,408.10 C192.50,408.93 196.67,409.57 200.00,410.00 C203.33,410.43 205.42,410.35 207.50,410.70 C209.58,411.05 210.62,411.70 212.50,412.10 C214.38,412.50 216.67,412.83 218.75,413.10 C220.83,413.38 221.97,413.43 225.00,413.75 C228.03,414.07 234.92,414.79 236.90,415.00" fill="none" stroke="#3d1659" stroke-width="1.75" stroke-linejoin="round" stroke-linecap="round"/>
<path d="M84.60,321.40 C85.25,322.73 87.18,326.77 88.50,329.40 C89.82,332.03 91.18,334.37 92.50,337.20 C93.82,340.03 95.10,343.57 96.40,346.40 C97.70,349.23 98.78,351.58 100.30,354.20 C101.82,356.82 103.75,359.70 105.50,362.10 C107.25,364.50 109.05,366.43 110.80,368.60 C112.55,370.77 114.47,373.30 116.00,375.10 C117.53,376.90 118.08,377.85 120.00,379.40 C121.92,380.95 125.42,383.01 127.50,384.40 C129.58,385.79 129.58,386.30 132.50,387.75 C135.42,389.20 140.83,391.58 145.00,393.10 C149.17,394.62 153.33,395.75 157.50,396.90 C161.67,398.05 165.00,398.75 170.00,400.00 C175.00,401.25 182.50,403.32 187.50,404.40 C192.50,405.48 195.83,405.83 200.00,406.50 C204.17,407.17 208.33,407.85 212.50,408.40 C216.67,408.95 220.93,409.38 225.00,409.80 C229.07,410.22 234.92,410.72 236.90,410.90" fill="none" stroke="#ecb722" stroke-width="1.75" stroke-linejoin="round" stroke-linecap="round"/>
<path d="M84.40,321.00 C85.30,322.07 88.02,325.23 89.80,327.40 C91.58,329.57 93.35,331.72 95.10,334.00 C96.85,336.28 98.57,338.72 100.30,341.10 C102.03,343.48 103.75,346.00 105.50,348.30 C107.25,350.60 109.05,352.93 110.80,354.90 C112.55,356.87 114.47,358.67 116.00,360.10 C117.53,361.53 118.33,362.25 120.00,363.50 C121.67,364.75 123.92,366.31 126.00,367.60 C128.08,368.89 129.33,369.70 132.50,371.25 C135.67,372.80 140.83,375.27 145.00,376.90 C149.17,378.52 153.33,379.75 157.50,381.00 C161.67,382.25 165.00,382.97 170.00,384.40 C175.00,385.83 182.50,388.35 187.50,389.60 C192.50,390.85 195.83,391.17 200.00,391.90 C204.17,392.63 208.33,393.33 212.50,394.00 C216.67,394.67 220.93,395.33 225.00,395.90 C229.07,396.47 234.92,397.15 236.90,397.40" fill="none" stroke="#62a9e2" stroke-width="1.75" stroke-linejoin="round" stroke-linecap="round"/>
<path d="M84.00,320.20 C84.97,320.87 87.95,322.67 89.80,324.20 C91.65,325.73 93.35,327.45 95.10,329.40 C96.85,331.35 98.57,333.72 100.30,335.90 C102.03,338.08 103.75,340.43 105.50,342.50 C107.25,344.57 109.05,346.45 110.80,348.30 C112.55,350.15 114.47,352.12 116.00,353.60 C117.53,355.08 118.33,355.98 120.00,357.20 C121.67,358.42 123.92,359.70 126.00,360.90 C128.08,362.10 129.33,362.92 132.50,364.40 C135.67,365.88 140.83,368.15 145.00,369.75 C149.17,371.35 153.33,372.64 157.50,374.00 C161.67,375.36 165.00,376.48 170.00,377.90 C175.00,379.32 182.50,381.36 187.50,382.50 C192.50,383.64 195.83,384.07 200.00,384.75 C204.17,385.43 208.33,385.96 212.50,386.60 C216.67,387.24 220.93,388.00 225.00,388.60 C229.07,389.20 234.92,389.93 236.90,390.20" fill="none" stroke="#55a032" stroke-width="1.75" stroke-linejoin="round" stroke-linecap="round"/>
<path d="M337.40,321.00 C337.63,322.08 338.20,325.22 338.80,327.50 C339.40,329.78 340.28,332.53 341.00,334.70 C341.72,336.87 342.40,338.22 343.10,340.50 C343.80,342.78 344.32,345.35 345.20,348.40 C346.08,351.45 347.35,355.67 348.40,358.80 C349.45,361.93 350.28,364.42 351.50,367.20 C352.72,369.98 354.40,373.07 355.70,375.50 C357.00,377.93 357.92,379.70 359.30,381.80 C360.68,383.90 362.17,386.18 364.00,388.10 C365.83,390.02 368.20,391.73 370.30,393.30 C372.40,394.87 374.72,396.22 376.60,397.50 C378.48,398.78 379.37,399.87 381.60,401.00 C383.83,402.13 386.68,403.10 390.00,404.30 C393.32,405.50 397.65,407.10 401.50,408.20 C405.35,409.30 409.25,410.30 413.10,410.90 C416.95,411.50 421.27,411.52 424.60,411.80 C427.93,412.08 430.78,412.25 433.10,412.60 C435.42,412.95 435.37,413.30 438.50,413.90 C441.63,414.50 447.42,415.57 451.90,416.20 C456.38,416.83 460.92,417.23 465.40,417.70 C469.88,418.17 474.72,418.57 478.80,419.00 C482.88,419.43 488.05,420.08 489.90,420.30" fill="none" stroke="#3d1659" stroke-width="1.75" stroke-linejoin="round" stroke-linecap="round"/>
<path d="M337.40,321.00 C337.92,322.55 339.53,327.65 340.50,330.30 C341.47,332.95 342.58,335.28 343.20,336.90 C343.82,338.52 343.68,338.08 344.20,340.00 C344.72,341.92 345.43,345.27 346.30,348.40 C347.17,351.53 348.37,355.67 349.40,358.80 C350.43,361.93 351.28,364.42 352.50,367.20 C353.72,369.98 355.30,373.10 356.70,375.50 C358.10,377.90 359.33,379.52 360.90,381.60 C362.47,383.68 364.37,386.22 366.10,388.00 C367.83,389.78 369.55,391.07 371.30,392.30 C373.05,393.53 374.63,394.25 376.60,395.40 C378.57,396.55 380.87,397.98 383.10,399.20 C385.33,400.42 386.93,401.52 390.00,402.70 C393.07,403.88 397.65,405.27 401.50,406.30 C405.35,407.33 409.25,408.05 413.10,408.90 C416.95,409.75 420.37,410.63 424.60,411.40 C428.83,412.17 433.95,412.80 438.50,413.50 C443.05,414.20 447.42,415.03 451.90,415.60 C456.38,416.17 460.92,416.55 465.40,416.90 C469.88,417.25 474.72,417.48 478.80,417.70 C482.88,417.92 488.05,418.12 489.90,418.20" fill="none" stroke="#ecb722" stroke-width="1.75" stroke-linejoin="round" stroke-linecap="round"/>
<path d="M337.20,320.60 C337.93,322.02 340.40,326.75 341.60,329.10 C342.80,331.45 343.48,332.65 344.40,334.70 C345.32,336.75 346.10,338.78 347.10,341.40 C348.10,344.02 349.15,347.53 350.40,350.40 C351.65,353.27 353.02,356.00 354.60,358.60 C356.18,361.20 358.23,363.63 359.90,366.00 C361.57,368.37 363.05,370.88 364.60,372.80 C366.15,374.72 367.47,375.92 369.20,377.50 C370.93,379.08 373.07,380.87 375.00,382.30 C376.93,383.73 378.68,384.82 380.80,386.10 C382.92,387.38 385.40,388.87 387.70,390.00 C390.00,391.13 392.30,392.03 394.60,392.90 C396.90,393.77 399.20,394.53 401.50,395.20 C403.80,395.87 405.70,396.23 408.40,396.90 C411.10,397.57 415.00,398.53 417.70,399.20 C420.40,399.87 421.13,400.07 424.60,400.90 C428.07,401.73 433.95,403.30 438.50,404.20 C443.05,405.10 447.42,405.65 451.90,406.30 C456.38,406.95 460.92,407.62 465.40,408.10 C469.88,408.58 474.72,408.85 478.80,409.20 C482.88,409.55 488.05,410.03 489.90,410.20" fill="none" stroke="#62a9e2" stroke-width="1.75" stroke-linejoin="round" stroke-linecap="round"/>
<path d="M336.90,320.10 C337.50,320.68 339.45,322.37 340.50,323.60 C341.55,324.83 342.28,326.02 343.20,327.50 C344.12,328.98 345.07,330.48 346.00,332.50 C346.93,334.52 347.75,336.78 348.80,339.60 C349.85,342.42 350.98,346.58 352.30,349.40 C353.62,352.22 355.42,354.47 356.70,356.50 C357.98,358.53 358.68,359.72 360.00,361.60 C361.32,363.48 363.07,366.07 364.60,367.80 C366.13,369.53 367.47,370.58 369.20,372.00 C370.93,373.42 373.07,374.97 375.00,376.30 C376.93,377.63 378.68,378.78 380.80,380.00 C382.92,381.22 385.40,382.52 387.70,383.60 C390.00,384.68 392.30,385.63 394.60,386.50 C396.90,387.37 399.20,388.07 401.50,388.80 C403.80,389.53 405.32,390.07 408.40,390.90 C411.48,391.73 414.98,392.77 420.00,393.80 C425.02,394.83 433.18,396.13 438.50,397.10 C443.82,398.07 447.42,398.88 451.90,399.60 C456.38,400.32 460.92,400.80 465.40,401.40 C469.88,402.00 474.72,402.68 478.80,403.20 C482.88,403.72 488.05,404.28 489.90,404.50" fill="none" stroke="#55a032" stroke-width="1.75" stroke-linejoin="round" stroke-linecap="round"/>
</svg>
</body></html>
